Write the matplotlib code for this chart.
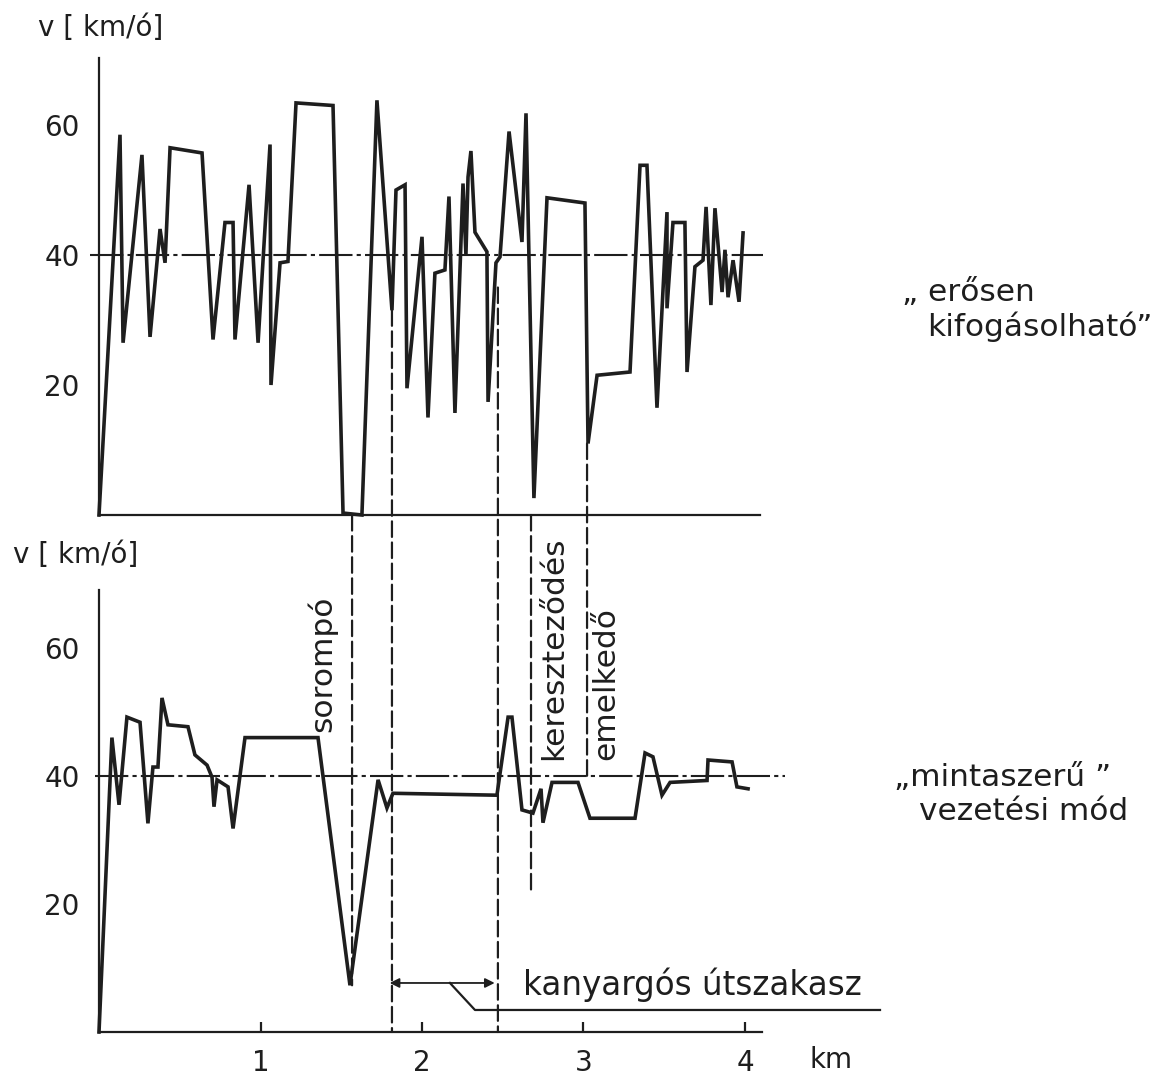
import matplotlib
matplotlib.use("Agg")
import matplotlib.pyplot as plt
from matplotlib.patches import ConnectionPatch

plt.rcParams['font.family'] = ['DejaVu Sans']
ink = '#1e1e1e'

# "erősen kifogásolható" run: distance [km], speed [km/h]
top_km = [0.0, 0.13, 0.149, 0.266, 0.316, 0.378, 0.409, 0.440, 0.638, 0.706,
          0.780, 0.830, 0.842, 0.929, 0.985, 1.059, 1.065, 1.121, 1.170, 1.220,
          1.449, 1.511, 1.628, 1.721, 1.814, 1.839, 1.895, 1.907, 2.000, 2.037,
          2.080, 2.142, 2.167, 2.204, 2.254, 2.272, 2.285, 2.303, 2.328, 2.402,
          2.409, 2.458, 2.483, 2.539, 2.619, 2.644, 2.693, 2.774, 3.009, 3.028,
          3.084, 3.288, 3.350, 3.393, 3.455, 3.517, 3.517, 3.554, 3.628, 3.641,
          3.690, 3.740, 3.759, 3.789, 3.814, 3.858, 3.876, 3.895, 3.926, 3.963,
          3.988]
top_v = [0.0, 58.5, 26.5, 55.4, 27.4, 44.0, 38.8, 56.5, 55.7, 27.0,
         45.0, 45.0, 27.0, 50.8, 26.5, 57.0, 20.0, 38.8, 39.0, 63.4,
         63.0, 0.3, 0.0, 63.8, 31.5, 50.0, 50.8, 19.5, 42.8, 15.0,
         37.2, 37.7, 49.0, 15.7, 51.0, 40.0, 52.0, 56.0, 43.5, 40.5,
         17.4, 38.8, 39.7, 59.0, 42.0, 61.8, 2.6, 48.8, 48.0, 11.0,
         21.5, 22.0, 53.8, 53.8, 16.5, 46.6, 31.8, 45.0, 45.0, 22.0,
         38.2, 39.2, 47.4, 32.3, 47.2, 34.3, 40.8, 33.5, 39.2, 32.8,
         43.4]

# "mintaszerű" run
bot_km = [0.0, 0.080, 0.124, 0.173, 0.254, 0.303, 0.334, 0.365, 0.390, 0.427,
          0.551, 0.594, 0.669, 0.700, 0.712, 0.731, 0.799, 0.830, 0.904, 1.356,
          1.554, 1.728, 1.783, 1.820, 2.464, 2.533, 2.557, 2.619, 2.687, 2.737,
          2.749, 2.805, 2.966, 3.040, 3.319, 3.381, 3.430, 3.486, 3.536, 3.765,
          3.771, 3.920, 3.950, 4.019]
bot_v = [0.0, 46.0, 35.5, 49.2, 48.4, 32.6, 41.4, 41.4, 52.2, 48.0,
         47.7, 43.3, 41.7, 39.8, 35.2, 39.4, 38.3, 31.8, 46.0, 46.0,
         7.3, 39.4, 35.0, 37.3, 37.0, 49.2, 49.2, 34.7, 34.2, 38.0,
         32.7, 39.0, 39.0, 33.4, 33.4, 43.6, 43.0, 37.0, 39.0, 39.3,
         42.5, 42.2, 38.3, 38.0]

# guide lines between the panels: position, start (top panel), end (bottom panel)
guide_km = [1.567, 1.814, 2.470, 2.675, 3.022]
guide_top = [0.0, 31.5, 35.0, 0.0, 11.0]
guide_bot = [7.3, 0.0, 0.0, 21.7, 40.0]

markers = ['sorompó', 'kereszteződés', 'emelkedő']
marker_km = [1.380, 2.812, 3.136]
marker_v = [57.5, 60.0, 54.5]

fig = plt.figure(figsize=(11.66, 10.79), dpi=100)
ax1 = fig.add_axes([99 / 1166, 1 - 515 / 1079, 661 / 1166, 457 / 1079])
ax2 = fig.add_axes([99 / 1166, 1 - 1032 / 1079, 663 / 1166, 442 / 1079])
ax1.set_xlim(0, 661 / 161.5)
ax1.set_ylim(0, 457 / 6.5)
ax2.set_xlim(0, 663 / 161.5)
ax2.set_ylim(0, 442 / 6.4)

for ax in (ax1, ax2):
    for s in ('top', 'right'):
        ax.spines[s].set_visible(False)
    for s in ('left', 'bottom'):
        ax.spines[s].set_linewidth(1.6)
        ax.spines[s].set_color(ink)
    ax.set_yticks([20, 40, 60])
    ax.tick_params(axis='y', length=0, pad=14, labelsize=20, labelcolor=ink)
    ax.patch.set_alpha(0)

ax1.set_xticks([])
ax2.set_xticks([1, 2, 3, 4])
ax2.tick_params(axis='x', direction='in', length=7, width=1.6, color=ink,
                pad=12, labelsize=20, labelcolor=ink)

dashdot = (0, (16, 2, 2, 2))
ax1.plot([-0.056, 4.11], [40, 40], color=ink, lw=1.5, ls=dashdot, clip_on=False)
ax2.plot([-0.025, 4.25], [40, 40], color=ink, lw=1.5, ls=dashdot, clip_on=False)

ax1.plot(top_km, top_v, color=ink, lw=2.6, solid_joinstyle='miter', clip_on=False)
ax2.plot(bot_km, bot_v, color=ink, lw=2.6, solid_joinstyle='miter', clip_on=False)

for x, a, b in zip(guide_km, guide_top, guide_bot):
    con = ConnectionPatch(xyA=(x, a), coordsA=ax1.transData,
                          xyB=(x, b), coordsB=ax2.transData,
                          color=ink, lw=1.6, linestyle=(0, (7, 2.5)))
    fig.add_artist(con)

for name, x, y in zip(markers, marker_km, marker_v):
    ax2.text(x, y, name, rotation=90, ha='center', va='center',
             fontsize=22.5, color=ink)

# kanyargós útszakasz
ax2.annotate('', xy=(1.80, 7.66), xytext=(2.45, 7.66),
             arrowprops=dict(arrowstyle='<|-|>', color=ink, lw=1.3,
                             mutation_scale=14, shrinkA=0, shrinkB=0))
ax2.plot([2.173, 2.328, 4.836], [7.66, 3.44, 3.44], color=ink, lw=1.6,
         clip_on=False)
ax2.text(2.625, 7.4, 'kanyargós útszakasz', ha='left', va='center',
         fontsize=23.5, color=ink)

ax2.text(4.40, -4.4, 'km', ha='left', va='center', fontsize=20, color=ink)

ax1.text(-0.378, 74.9, 'v [ km/ó]', ha='left', va='center', fontsize=20,
         color=ink, clip_on=False)
ax2.text(-0.533, 74.5, 'v [ km/ó]', ha='left', va='center', fontsize=20,
         color=ink, clip_on=False)

ax1.text(4.97, 34.3, '„ erősen', ha='left', va='center', fontsize=22.5, color=ink)
ax1.text(5.13, 28.9, 'kifogásolható”', ha='left', va='center', fontsize=22.5,
         color=ink)
ax2.text(4.92, 39.7, '„mintaszerű ”', ha='left', va='center', fontsize=22.5,
         color=ink)
ax2.text(5.08, 34.4, 'vezetési mód', ha='left', va='center', fontsize=22.5,
         color=ink)

fig.savefig('out.png', dpi=100, facecolor='white')
